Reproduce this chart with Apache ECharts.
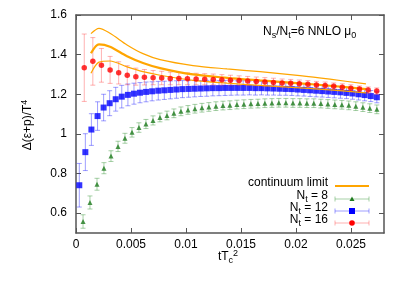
<!DOCTYPE html>
<html>
<head>
<meta charset="utf-8">
<script src="https://cdn.jsdelivr.net/npm/echarts@6.0.0/dist/echarts.min.js"></script>
<style>html,body{margin:0;padding:0;background:#fff}#c{width:409px;height:286px}</style>
</head>
<body>
<div id="c"></div>
<script>
// ---- data ----
const xTicks = [0, 0.005, 0.01, 0.015, 0.02, 0.025];
const yTicks = [0.6, 0.8, 1, 1.2, 1.4, 1.6];

const contX = [0.00136, 0.00209, 0.00309, 0.00464, 0.00609, 0.00764, 0.01064, 0.01373, 0.01673, 0.02036, 0.02309, 0.02636];
const contMid = [1.407, 1.452, 1.440, 1.392, 1.358, 1.332, 1.300, 1.283, 1.270, 1.255, 1.243, 1.226];
const contUp  = [1.506, 1.533, 1.508, 1.449, 1.405, 1.375, 1.345, 1.328, 1.314, 1.294, 1.276, 1.252];
const contLo  = [1.306, 1.362, 1.368, 1.338, 1.314, 1.296, 1.270, 1.256, 1.245, 1.232, 1.222, 1.207];

const nt8X = [0.00064, 0.00127, 0.00191, 0.00254, 0.00318, 0.00382, 0.00445, 0.00509, 0.00572, 0.00636,
  0.00700, 0.00763, 0.00827, 0.00890, 0.00954, 0.01018, 0.01081, 0.01145, 0.01208, 0.01272,
  0.01336, 0.01399, 0.01463, 0.01526, 0.01590, 0.01654, 0.01717, 0.01781, 0.01844, 0.01908,
  0.01972, 0.02035, 0.02099, 0.02162, 0.02226, 0.02290, 0.02353, 0.02417, 0.02480, 0.02544,
  0.02608, 0.02671, 0.02735];
const nt8Y = [0.558, 0.654, 0.746, 0.827, 0.888, 0.937, 0.978, 1.008, 1.032, 1.050,
  1.068, 1.083, 1.093, 1.104, 1.114, 1.121, 1.127, 1.132, 1.136, 1.140,
  1.143, 1.145, 1.148, 1.150, 1.152, 1.153, 1.155, 1.156, 1.157, 1.157,
  1.156, 1.156, 1.155, 1.155, 1.153, 1.151, 1.149, 1.147, 1.144, 1.140,
  1.135, 1.130, 1.124];
const nt8E = [0.034, 0.033, 0.030, 0.028, 0.027, 0.026, 0.025, 0.024, 0.024, 0.023,
  0.023, 0.022, 0.022, 0.022, 0.022, 0.022, 0.022, 0.022, 0.022, 0.022,
  0.022, 0.022, 0.022, 0.022, 0.022, 0.022, 0.022, 0.022, 0.022, 0.022,
  0.022, 0.022, 0.022, 0.022, 0.022, 0.022, 0.022, 0.022, 0.022, 0.022,
  0.022, 0.022, 0.022];

const nt12X = [0.00030, 0.00085, 0.00140, 0.00196, 0.00251, 0.00306, 0.00361, 0.00416, 0.00472, 0.00527,
  0.00582, 0.00637, 0.00692, 0.00748, 0.00803, 0.00858, 0.00913, 0.00968, 0.01024, 0.01079,
  0.01134, 0.01189, 0.01244, 0.01300, 0.01355, 0.01410, 0.01465, 0.01520, 0.01576, 0.01631,
  0.01686, 0.01741, 0.01796, 0.01852, 0.01907, 0.01962, 0.02017, 0.02072, 0.02128, 0.02183,
  0.02238, 0.02293, 0.02348, 0.02404, 0.02459, 0.02514, 0.02569, 0.02624, 0.02680, 0.02735];
const nt12Y = [0.741, 0.908, 1.022, 1.090, 1.133, 1.155, 1.175, 1.188, 1.197, 1.203,
  1.208, 1.212, 1.215, 1.218, 1.220, 1.222, 1.224, 1.226, 1.227, 1.228,
  1.229, 1.230, 1.231, 1.231, 1.232, 1.232, 1.232, 1.232, 1.232, 1.231,
  1.231, 1.230, 1.229, 1.228, 1.227, 1.226, 1.224, 1.222, 1.220, 1.218,
  1.216, 1.214, 1.212, 1.210, 1.207, 1.204, 1.200, 1.196, 1.191, 1.185];
const nt12E = [0.110, 0.093, 0.080, 0.072, 0.067, 0.063, 0.060, 0.057, 0.055, 0.053,
  0.051, 0.050, 0.048, 0.047, 0.046, 0.045, 0.044, 0.043, 0.042, 0.041,
  0.040, 0.040, 0.039, 0.038, 0.038, 0.037, 0.036, 0.036, 0.035, 0.035,
  0.034, 0.034, 0.033, 0.033, 0.032, 0.032, 0.032, 0.031, 0.031, 0.031,
  0.030, 0.030, 0.030, 0.030, 0.029, 0.029, 0.029, 0.029, 0.028, 0.028];

const nt16X = [0.00075, 0.00153, 0.00231, 0.00310, 0.00388, 0.00466, 0.00544, 0.00622, 0.00701, 0.00779,
  0.00857, 0.00935, 0.01013, 0.01092, 0.01170, 0.01248, 0.01326, 0.01404, 0.01483, 0.01561,
  0.01639, 0.01717, 0.01795, 0.01874, 0.01952, 0.02030, 0.02108, 0.02186, 0.02265, 0.02343,
  0.02421, 0.02499, 0.02577, 0.02656, 0.02734];
const nt16Y = [1.334, 1.366, 1.346, 1.323, 1.308, 1.296, 1.289, 1.286, 1.284, 1.282,
  1.280, 1.279, 1.278, 1.277, 1.276, 1.275, 1.273, 1.271, 1.269, 1.267,
  1.265, 1.262, 1.260, 1.257, 1.255, 1.253, 1.250, 1.247, 1.244, 1.240,
  1.236, 1.231, 1.226, 1.221, 1.216];
const nt16E = [0.170, 0.120, 0.085, 0.068, 0.056, 0.048, 0.043, 0.039, 0.036, 0.034,
  0.032, 0.031, 0.030, 0.029, 0.028, 0.027, 0.026, 0.025, 0.024, 0.023,
  0.022, 0.022, 0.021, 0.020, 0.020, 0.019, 0.019, 0.018, 0.018, 0.017,
  0.017, 0.017, 0.016, 0.016, 0.016];

// ---- build ----
const FONT = '"Liberation Sans", Arial, sans-serif';
const AX = '#555';
function pairs(xs, ys) { return xs.map((x, i) => [x, ys[i]]); }
function errs(xs, ys, es) { return xs.map((x, i) => [x, ys[i] - es[i], ys[i] + es[i]]); }
function errSeries(data, color, z) {
  return {
    type: 'custom', data: data, z: z, clip: true, silent: true,
    encode: { x: 0, y: [1, 2] },
    renderItem: function (params, api) {
      const x = api.value(0);
      const a = api.coord([x, api.value(2)]);
      const b = api.coord([x, api.value(1)]);
      const w = 2.5;
      const st = { stroke: color, lineWidth: 1 };
      return { type: 'group', children: [
        { type: 'line', shape: { x1: a[0], y1: a[1], x2: b[0], y2: b[1] }, style: st },
        { type: 'line', shape: { x1: a[0] - w, y1: a[1], x2: a[0] + w, y2: a[1] }, style: st },
        { type: 'line', shape: { x1: b[0] - w, y1: b[1], x2: b[0] + w, y2: b[1] }, style: st }
      ]};
    }
  };
}
function lineSeries(ys, width, z) {
  return { type: 'line', data: pairs(contX, ys), showSymbol: false, symbol: 'none', z: z, silent: true,
    lineStyle: { color: '#ffa500', width: width }, smooth: 0.3 };
}

const C8 = '#1e7a1e', C8e = 'rgba(60,150,60,0.45)';
const C12 = '#0000ff', C12e = 'rgba(40,40,255,0.45)';
const C16 = '#ff0000', C16e = 'rgba(255,60,60,0.4)';

const chart = echarts.init(document.getElementById('c'), null, { renderer: 'canvas' });
const rich = {
  a: { fontSize: 12, fontFamily: FONT, lineHeight: 16, color: '#000' },
  s: { fontSize: 9, fontFamily: FONT, lineHeight: 9, verticalAlign: 'bottom', color: '#000' },
  p: { fontSize: 9, fontFamily: FONT, lineHeight: 9, verticalAlign: 'top', color: '#000' }
};
const legRows = [
  { t: '{a|continuum limit}', y: 186 },
  { t: '{a|N}{s|t}{a| = 8}', y: 199, c: C8, ce: C8e, sym: 'tri' },
  { t: '{a|N}{s|t}{a| = 12}', y: 211, c: C12, ce: C12e, sym: 'rect' },
  { t: '{a|N}{s|t}{a| = 16}', y: 223, c: C16, ce: C16e, sym: 'circ' }
];
const graphics = [];
legRows.forEach((r, i) => {
  graphics.push({ type: 'text', right: 409 - 328, top: r.y - 9, style: { text: r.t, rich: rich, align: 'right' } });
  if (i === 0) {
    graphics.push({ type: 'line', shape: { x1: 335, y1: r.y, x2: 369, y2: r.y }, style: { stroke: '#ffa500', lineWidth: 2 } });
  } else {
    graphics.push({ type: 'line', shape: { x1: 335, y1: r.y, x2: 369, y2: r.y }, style: { stroke: r.ce, lineWidth: 1 } });
    graphics.push({ type: 'line', shape: { x1: 335, y1: r.y - 2.5, x2: 335, y2: r.y + 2.5 }, style: { stroke: r.ce, lineWidth: 1 } });
    graphics.push({ type: 'line', shape: { x1: 369, y1: r.y - 2.5, x2: 369, y2: r.y + 2.5 }, style: { stroke: r.ce, lineWidth: 1 } });
    if (r.sym === 'tri') graphics.push({ type: 'polygon', shape: { points: [[352, r.y - 2.5], [354.5, r.y + 2], [349.5, r.y + 2]] }, style: { fill: r.c } });
    if (r.sym === 'rect') graphics.push({ type: 'rect', shape: { x: 349, y: r.y - 3, width: 6, height: 6 }, style: { fill: r.c } });
    if (r.sym === 'circ') graphics.push({ type: 'circle', shape: { cx: 352, cy: r.y, r: 2.8 }, style: { fill: r.c } });
  }
});
graphics.push({ type: 'text', left: 263, top: 26, style: { text: '{a|N}{s|s}{a|/N}{s|t}{a|=6 NNLO μ}{s|0}', rich: rich } });
graphics.push({ type: 'text', x: 28, y: 125, rotation: Math.PI / 2,
  style: { text: '{a|Δ(ε+p)/T}{p|4}', rich: rich, align: 'center', verticalAlign: 'middle' } });
graphics.push({ type: 'text', x: 228, y: 257,
  style: { text: '{a|tT}{s|c}{p|2}', rich: rich, align: 'center', verticalAlign: 'middle' } });

const axLine = { show: true, onZero: false, lineStyle: { color: AX, width: 1.5 } };
const lbl = { color: '#000', fontSize: 12, fontFamily: FONT };

chart.setOption({
  animation: false,
  backgroundColor: '#fff',
  grid: { left: 76, top: 15, width: 308, height: 218, containLabel: false },
  xAxis: [
    { type: 'value', min: 0, max: 0.028, position: 'bottom', axisLine: axLine,
      axisTick: { inside: true, length: 5, lineStyle: { color: AX }, customValues: xTicks },
      axisLabel: Object.assign({ customValues: xTicks, margin: 6 }, lbl), splitLine: { show: false } },
    { type: 'value', min: 0, max: 0.028, position: 'top', axisLine: axLine,
      axisTick: { inside: true, length: 5, lineStyle: { color: AX }, customValues: xTicks },
      axisLabel: { show: false }, splitLine: { show: false } }
  ],
  yAxis: [
    { type: 'value', min: 0.5, max: 1.6, position: 'left', axisLine: axLine,
      axisTick: { inside: true, length: 5, lineStyle: { color: AX }, customValues: yTicks },
      axisLabel: Object.assign({ customValues: yTicks, margin: 9 }, lbl), splitLine: { show: false } },
    { type: 'value', min: 0.5, max: 1.6, position: 'right', axisLine: axLine,
      axisTick: { inside: true, length: 5, lineStyle: { color: AX }, customValues: yTicks },
      axisLabel: { show: false }, splitLine: { show: false } }
  ],
  series: [
    errSeries(errs(nt8X, nt8Y, nt8E), C8e, 3),
    { type: 'scatter', data: pairs(nt8X, nt8Y), symbol: 'triangle', symbolSize: 5, itemStyle: { color: C8 }, z: 4, silent: true },
    errSeries(errs(nt12X, nt12Y, nt12E), C12e, 5),
    { type: 'scatter', data: pairs(nt12X, nt12Y), symbol: 'rect', symbolSize: 6, itemStyle: { color: C12 }, z: 6, silent: true },
    errSeries(errs(nt16X, nt16Y, nt16E), C16e, 7),
    lineSeries(contUp, 1.2, 8),
    lineSeries(contMid, 2.2, 8),
    lineSeries(contLo, 1.2, 8),
    { type: 'scatter', data: pairs(nt16X, nt16Y), symbol: 'circle', symbolSize: 5.5, itemStyle: { color: C16 }, z: 9, silent: true }
  ],
  graphic: graphics
});
</script>
</body>
</html>
